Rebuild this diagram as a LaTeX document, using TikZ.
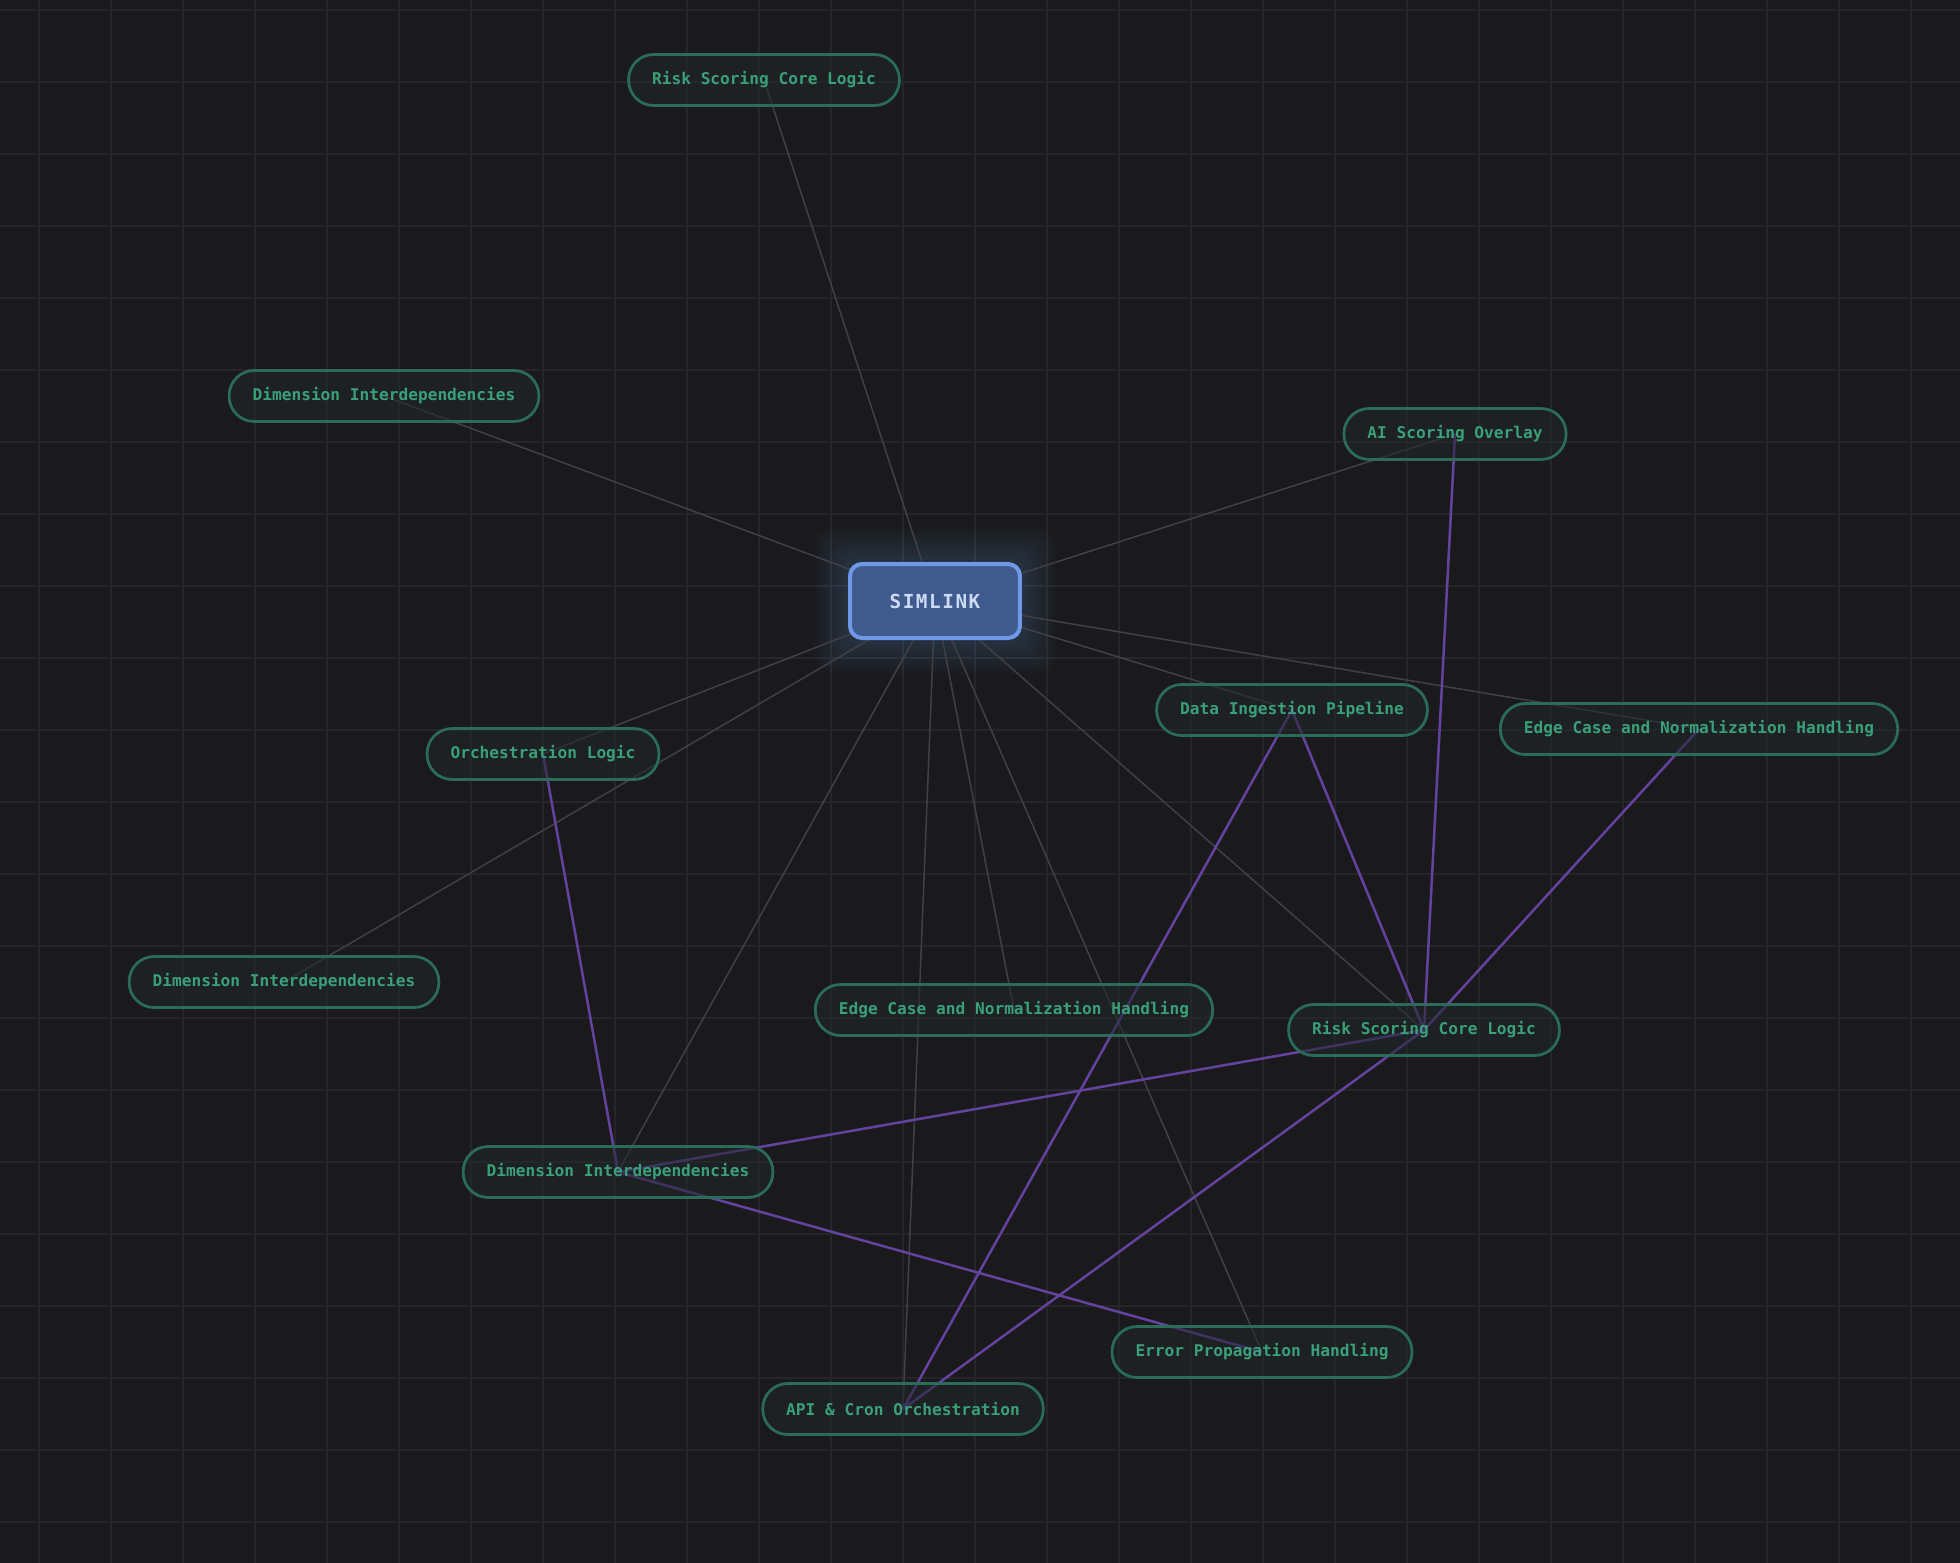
\documentclass[tikz,border=0pt]{standalone}
\usepackage{fontspec}
\setmonofont{DejaVu Sans Mono}
\usepackage{tikz}

\definecolor{bgdark}{RGB}{26,26,29}
\definecolor{gridgray}{RGB}{38,38,42}
\definecolor{spokegray}{RGB}{64,64,70}
\definecolor{linkpurple}{RGB}{100,66,160}
\definecolor{topicline}{RGB}{42,108,88}
\definecolor{topicfill}{RGB}{32,40,42}
\definecolor{topictext}{RGB}{58,160,122}
\definecolor{hubfill}{RGB}{66,96,150}
\definecolor{hubline}{RGB}{112,152,232}
\definecolor{hubtext}{RGB}{205,218,246}

\pgfdeclarelayer{under}
\pgfdeclarelayer{links}
\pgfsetlayers{under,links,main}

\begin{document}
\begin{tikzpicture}[x=0.02cm,y=-0.02cm,
  topic/.style={draw=topicline, line width=0.055cm, fill=topicfill, fill opacity=0.55,
    text opacity=1, text=topictext, rounded corners=0.5cm, minimum height=1.02cm,
    inner xsep=0.47cm, font=\ttfamily\bfseries\fontsize{9.2}{11}\selectfont},
  hub/.style={draw=hubline, line width=0.08cm, fill=hubfill, fill opacity=0.9,
    text opacity=1, text=hubtext, rounded corners=0.24cm, minimum width=3.4cm,
    minimum height=1.48cm, font=\ttfamily\bfseries\fontsize{11}{13}\selectfont\addfontfeature{LetterSpace=8}},
  spoke/.style={draw=spokegray, line width=0.03cm},
  crosslink/.style={draw=linkpurple, line width=0.05cm}]

\useasboundingbox (0,0) rectangle (1960,1562);

% background and grid
\begin{pgfonlayer}{under}
\fill[bgdark] (-10,-10) rectangle (1970,1572);
\foreach \gx in {0,...,26}
  \draw[gridgray, line width=0.03cm] ({39+72*\gx},-10) -- ({39+72*\gx},1572);
\foreach \gy in {0,...,21}
  \draw[gridgray, line width=0.03cm] (-10,{10+72*\gy}) -- (1970,{10+72*\gy});
% glow round the hub
\foreach \g in {1,...,12}
  \fill[hubline, opacity=0.018, rounded corners=0.3cm]
    ({850-3*\g},{564-3*\g}) rectangle ({1020+3*\g},{638+3*\g});
\end{pgfonlayer}

\node[hub] (simlink) at (935,601) {SIMLINK};

\node[topic] (riskTop) at (764,80) {Risk Scoring Core Logic};
\node[topic] (dimTop) at (384,396) {Dimension Interdependencies};
\node[topic] (aiOverlay) at (1455,434) {AI Scoring Overlay};
\node[topic] (ingest) at (1292,710) {Data Ingestion Pipeline};
\node[topic] (edgeRight) at (1699,729) {Edge Case and Normalization Handling};
\node[topic] (orch) at (543,754) {Orchestration Logic};
\node[topic] (dimLeft) at (284,982) {Dimension Interdependencies};
\node[topic] (edgeMid) at (1014,1010) {Edge Case and Normalization Handling};
\node[topic] (riskRight) at (1424,1030) {Risk Scoring Core Logic};
\node[topic] (dimLow) at (618,1172) {Dimension Interdependencies};
\node[topic] (errProp) at (1262,1352) {Error Propagation Handling};
\node[topic] (apiCron) at (903,1409) {API \& Cron Orchestration};

\begin{pgfonlayer}{links}
% spokes from the hub
\foreach \leaf in {riskTop,dimTop,aiOverlay,ingest,edgeRight,orch,dimLeft,edgeMid,riskRight,dimLow,errProp,apiCron}
  \draw[spoke] (simlink.center) -- (\leaf.center);

% cross links
\draw[crosslink] (aiOverlay.center) -- (riskRight.center);
\draw[crosslink] (ingest.center) -- (riskRight.center);
\draw[crosslink] (edgeRight.center) -- (riskRight.center);
\draw[crosslink] (riskRight.center) -- (dimLow.center);
\draw[crosslink] (riskRight.center) -- (apiCron.center);
\draw[crosslink] (ingest.center) -- (apiCron.center);
\draw[crosslink] (orch.center) -- (dimLow.center);
\draw[crosslink] (dimLow.center) -- (errProp.center);
\end{pgfonlayer}

\end{tikzpicture}
\end{document}
